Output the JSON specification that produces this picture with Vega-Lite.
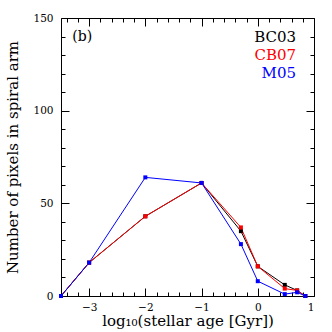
{
  "$schema": "https://vega.github.io/schema/vega-lite/v6.json",
  "width": 253,
  "height": 278,
  "autosize": "none",
  "padding": {"left": 61, "top": 18, "right": 18, "bottom": 36},
  "background": "white",
  "config": {
    "view": {"stroke": "black", "strokeWidth": 1},
    "axis": {"domain": false, "grid": false, "labelFont": "DejaVu Serif", "titleFont": "DejaVu Serif", "labelFontSize": 10.5, "titleFontSize": 15, "labelColor": "black", "titleColor": "black", "titleFontWeight": "normal", "tickColor": "black"}
  },
  "datasets": {
    "series": [
      {"model": "BC03", "logage": -3.5, "n": 0},
      {"model": "BC03", "logage": -3, "n": 18},
      {"model": "BC03", "logage": -2, "n": 43},
      {"model": "BC03", "logage": -1, "n": 61},
      {"model": "BC03", "logage": -0.3, "n": 35},
      {"model": "BC03", "logage": 0, "n": 16},
      {"model": "BC03", "logage": 0.48, "n": 6},
      {"model": "BC03", "logage": 0.7, "n": 3},
      {"model": "BC03", "logage": 0.845, "n": 0},
      {"model": "CB07", "logage": -3.5, "n": 0},
      {"model": "CB07", "logage": -3, "n": 18},
      {"model": "CB07", "logage": -2, "n": 43},
      {"model": "CB07", "logage": -1, "n": 61},
      {"model": "CB07", "logage": -0.3, "n": 37},
      {"model": "CB07", "logage": 0, "n": 16},
      {"model": "CB07", "logage": 0.48, "n": 4},
      {"model": "CB07", "logage": 0.7, "n": 3},
      {"model": "CB07", "logage": 0.845, "n": 0},
      {"model": "M05", "logage": -3.5, "n": 0},
      {"model": "M05", "logage": -3, "n": 18},
      {"model": "M05", "logage": -2, "n": 64},
      {"model": "M05", "logage": -1, "n": 61},
      {"model": "M05", "logage": -0.3, "n": 28},
      {"model": "M05", "logage": 0, "n": 8},
      {"model": "M05", "logage": 0.48, "n": 1},
      {"model": "M05", "logage": 0.7, "n": 2},
      {"model": "M05", "logage": 0.845, "n": 0}
    ],
    "legend": [
      {"model": "BC03", "logage": 0.68, "n": 140},
      {"model": "CB07", "logage": 0.68, "n": 130},
      {"model": "M05", "logage": 0.68, "n": 120.3}
    ],
    "panel": [
      {"label": "(b)", "logage": -3.3, "n": 140}
    ]
  },
  "resolve": {"axis": {"x": "independent", "y": "independent"}},
  "layer": [
    {
      "data": {"name": "series"},
      "mark": {"type": "line", "strokeWidth": 1},
      "encoding": {
        "x": {"field": "logage", "type": "quantitative", "scale": {"domain": [-3.5, 1], "nice": false, "zero": false},
          "axis": {"orient": "bottom", "values": [-3, -2, -1, 0, 1], "ticks": false, "labelPadding": 6, "title": "log₁₀(stellar age [Gyr])", "titleBaseline": "alphabetic", "titleY": 29, "labelExpr": "datum.value < 0 ? '−' + abs(datum.value) : datum.label"}},
        "y": {"field": "n", "type": "quantitative", "scale": {"domain": [0, 150], "nice": false, "zero": true},
          "axis": {"orient": "left", "values": [0, 50, 100, 150], "ticks": false, "labelPadding": 8, "title": "Number of pixels in spiral arm", "titlePadding": 12}},
        "color": {"field": "model", "type": "nominal", "scale": {"domain": ["BC03", "CB07", "M05"], "range": ["black", "red", "blue"]}, "legend": null}
      }
    },
    {
      "data": {"name": "series"},
      "mark": {"type": "point", "shape": "square", "filled": true, "size": 16, "opacity": 1},
      "encoding": {
        "x": {"field": "logage", "type": "quantitative", "scale": {"domain": [-3.5, 1], "nice": false, "zero": false},
          "axis": {"orient": "bottom", "values": [-3, -2, -1, 0, 1], "labels": false, "tickSize": -8, "title": null}},
        "y": {"field": "n", "type": "quantitative", "scale": {"domain": [0, 150], "nice": false, "zero": true},
          "axis": {"orient": "left", "values": [0, 50, 100, 150], "labels": false, "tickSize": -8, "title": null}},
        "color": {"field": "model", "type": "nominal", "scale": {"domain": ["BC03", "CB07", "M05"], "range": ["black", "red", "blue"]}, "legend": null}
      }
    },
    {
      "data": {"name": "legend"},
      "mark": {"type": "text", "align": "right", "baseline": "middle", "font": "DejaVu Serif", "fontSize": 15},
      "encoding": {
        "x": {"field": "logage", "type": "quantitative", "scale": {"domain": [-3.5, 1], "nice": false, "zero": false},
          "axis": {"orient": "bottom", "values": [-3.4, -3.2, -2.8, -2.6, -2.4, -2.2, -1.8, -1.6, -1.4, -1.2, -0.8, -0.6, -0.4, -0.2, 0.2, 0.4, 0.6, 0.8], "labels": false, "tickSize": -4, "title": null}},
        "y": {"field": "n", "type": "quantitative", "scale": {"domain": [0, 150], "nice": false, "zero": true},
          "axis": {"orient": "left", "values": [10, 20, 30, 40, 60, 70, 80, 90, 110, 120, 130, 140], "labels": false, "tickSize": -4, "title": null}},
        "text": {"field": "model"},
        "color": {"field": "model", "type": "nominal", "scale": {"domain": ["BC03", "CB07", "M05"], "range": ["black", "red", "blue"]}, "legend": null}
      }
    },
    {
      "data": {"name": "panel"},
      "mark": {"type": "text", "align": "left", "baseline": "middle", "font": "DejaVu Serif", "fontSize": 14, "color": "black"},
      "encoding": {
        "x": {"field": "logage", "type": "quantitative", "scale": {"domain": [-3.5, 1], "nice": false, "zero": false},
          "axis": {"orient": "top", "values": [-3, -2, -1, 0, 1], "labels": false, "tickSize": -8, "title": null}},
        "y": {"field": "n", "type": "quantitative", "scale": {"domain": [0, 150], "nice": false, "zero": true},
          "axis": {"orient": "right", "values": [0, 50, 100, 150], "labels": false, "tickSize": -8, "title": null}},
        "text": {"field": "label"}
      }
    },
    {
      "data": {"name": "panel"},
      "mark": {"type": "point", "opacity": 0},
      "encoding": {
        "x": {"field": "logage", "type": "quantitative", "scale": {"domain": [-3.5, 1], "nice": false, "zero": false},
          "axis": {"orient": "top", "values": [-3.4, -3.2, -2.8, -2.6, -2.4, -2.2, -1.8, -1.6, -1.4, -1.2, -0.8, -0.6, -0.4, -0.2, 0.2, 0.4, 0.6, 0.8], "labels": false, "tickSize": -4, "title": null}},
        "y": {"field": "n", "type": "quantitative", "scale": {"domain": [0, 150], "nice": false, "zero": true},
          "axis": {"orient": "right", "values": [10, 20, 30, 40, 60, 70, 80, 90, 110, 120, 130, 140], "labels": false, "tickSize": -4, "title": null}}
      }
    }
  ]
}
